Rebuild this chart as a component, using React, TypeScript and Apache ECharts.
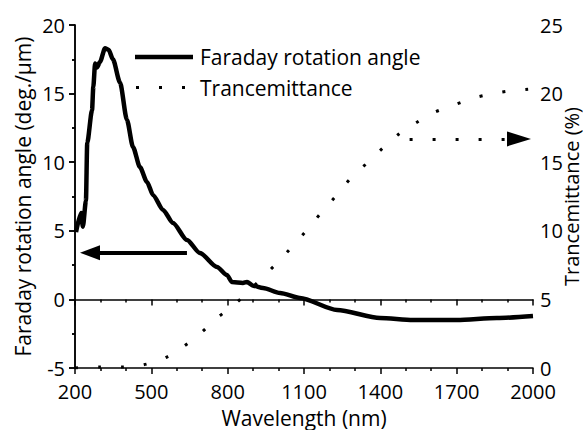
import React, { useEffect, useRef } from "react";
import * as echarts from "echarts";

// Faraday rotation angle (deg./µm) vs wavelength (nm)
const faradayWavelength = [204, 224, 231, 243, 248, 267, 272, 279, 286, 298, 318, 332, 349, 377, 404, 428, 455, 483, 507, 546, 585, 640, 691, 758, 797, 817, 860, 876, 900, 939, 1006, 1084, 1230, 1399, 1528, 1701, 1858, 2000];
const faradayAngle = [4.9, 6.3, 5.3, 7.2, 11.4, 13.8, 15.5, 17.2, 16.9, 17.3, 18.3, 18.2, 17.5, 15.8, 13.1, 11.1, 9.65, 8.56, 7.6, 6.52, 5.57, 4.33, 3.38, 2.36, 1.78, 1.27, 1.2, 1.27, 1.0, 0.83, 0.47, 0.1, -0.77, -1.36, -1.5, -1.5, -1.36, -1.21];

// Trancemittance (%) vs wavelength (nm)
const transWavelength = [200, 298, 385, 467, 554, 624, 695, 758, 829, 876, 931, 986, 1045, 1108, 1167, 1222, 1285, 1348, 1410, 1473, 1540, 1607, 1690, 1768, 1835, 1906, 1992];
const transValue = [0.0, 0.07, 0.07, 0.22, 0.73, 1.53, 2.55, 3.64, 4.66, 5.47, 6.49, 7.51, 8.67, 9.99, 11.3, 12.46, 13.85, 14.94, 16.03, 17.06, 17.86, 18.59, 19.17, 19.68, 19.97, 20.19, 20.34];

// Annotation arrows (data coordinates; end point = centre of arrow head)
const leftArrow = { from: [640, 3.4], to: [259, 3.4] };
const rightArrow = { from: [1515, 16.7], to: [1945, 16.7] };

// Tick labels
const X_MIN = 200;
const X_MAX = 2000;
const X_STEP = 300;
const LEFT_MIN = -5;
const LEFT_MAX = 20;
const RIGHT_MIN = 0;
const RIGHT_MAX = 25;
const Y_STEP = 5;

const legendNames = ["Faraday rotation angle", "Trancemittance"];

const FONT = "Open Sans";
const FS = 21;
const TICK_FS = 20;

export default function App() {
  const ref = useRef<HTMLDivElement>(null);

  useEffect(() => {
    if (!ref.current) return;
    const chart = echarts.init(ref.current, undefined, { renderer: "svg" });
    const sx = (v: number) => v - X_MIN;

    const faradayData = faradayWavelength.map((w, i) => [sx(w), faradayAngle[i]]);
    const transData = transWavelength.map((w, i) => [sx(w), transValue[i]]);

    const tickLine = { color: "#000", width: 1.5 };
    const axisLine = { show: true, lineStyle: { color: "#000", width: 1.5 } };
    const labelStyle = { color: "#000", fontSize: TICK_FS, fontFamily: FONT };
    const nameStyle = { color: "#000", fontSize: FS, fontFamily: FONT };

    chart.setOption({
      animation: false,
      backgroundColor: "#fff",
      grid: { left: 75, right: 50, top: 25, bottom: 62, outerBoundsMode: "none", containLabel: false },
      graphic: [
        {
          type: "line",
          shape: { x1: 135, y1: 57, x2: 193, y2: 57 },
          style: { stroke: "#000", lineWidth: 4.5 },
        },
        { type: "rect", shape: { x: 136, y: 86, width: 3, height: 3 }, style: { fill: "#000" } },
        { type: "rect", shape: { x: 159, y: 86, width: 3, height: 3 }, style: { fill: "#000" } },
        { type: "rect", shape: { x: 182, y: 86, width: 3, height: 3 }, style: { fill: "#000" } },
        {
          type: "text",
          x: 200,
          y: 57,
          style: { text: legendNames[0], fill: "#000", font: `${FS}px "${FONT}"`, verticalAlign: "middle" },
        },
        {
          type: "text",
          x: 200,
          y: 88,
          style: { text: legendNames[1], fill: "#000", font: `${FS}px "${FONT}"`, verticalAlign: "middle" },
        },
      ],
      xAxis: [
        {
          type: "value",
          position: "bottom",
          min: 0,
          max: X_MAX - X_MIN,
          interval: X_STEP,
          name: "Wavelength (nm)",
          nameLocation: "middle",
          nameGap: 39,
          nameMoveOverlap: false,
          nameTextStyle: nameStyle,
          axisLine,
          axisTick: { show: true, inside: false, length: 6, lineStyle: tickLine },
          minorTick: { show: true, splitNumber: 3, length: 3, lineStyle: tickLine },
          axisLabel: { ...labelStyle, margin: 13, formatter: (v: number) => String(v + X_MIN) },
          splitLine: { show: false },
        },
        {
          type: "value",
          position: "top",
          min: 0,
          max: X_MAX - X_MIN,
          interval: X_STEP,
          axisLine,
          axisTick: { show: true, inside: true, length: 6, lineStyle: tickLine },
          minorTick: { show: true, splitNumber: 3, length: 3, lineStyle: tickLine },
          axisLabel: { show: false },
          splitLine: { show: false },
        },
      ],
      yAxis: [
        {
          type: "value",
          position: "left",
          min: LEFT_MIN,
          max: LEFT_MAX,
          interval: Y_STEP,
          name: "Faraday rotation angle (deg./μm)",
          nameLocation: "middle",
          nameRotate: 90,
          nameGap: 42,
          nameMoveOverlap: false,
          nameTextStyle: nameStyle,
          axisLine,
          axisTick: { show: true, inside: false, length: 6, lineStyle: tickLine },
          minorTick: { show: true, splitNumber: 2, length: 3, lineStyle: tickLine },
          axisLabel: { ...labelStyle, margin: 10, lineHeight: 16 },
          splitLine: { show: false },
        },
        {
          type: "value",
          position: "right",
          min: RIGHT_MIN,
          max: RIGHT_MAX,
          interval: Y_STEP,
          name: "Trancemittance (%)",
          nameLocation: "middle",
          nameRotate: 90,
          nameGap: 28,
          nameMoveOverlap: false,
          nameTextStyle: { ...nameStyle, fontSize: 20 },
          axisLine,
          axisTick: { show: true, inside: true, length: 6, lineStyle: tickLine },
          minorTick: { show: true, splitNumber: 2, length: 3, lineStyle: tickLine },
          axisLabel: { ...labelStyle, margin: 7, lineHeight: 16 },
          splitLine: { show: false },
        },
      ],
      series: [
        {
          name: legendNames[0],
          type: "line",
          xAxisIndex: 0,
          yAxisIndex: 0,
          data: faradayData,
          symbol: "none",
          smooth: 0.25,
          smoothMonotone: "x",
          lineStyle: { color: "#000", width: 4.5 },
          itemStyle: { color: "#000" },
          markLine: {
            silent: true,
            symbol: ["none", "triangle"],
            symbolSize: [15, 20],
            label: { show: false },
            lineStyle: { color: "#000", width: 4, type: "solid" },
            data: [
              [
                { coord: [sx(leftArrow.from[0]), leftArrow.from[1]] },
                { coord: [sx(leftArrow.to[0]), leftArrow.to[1]] },
              ],
            ],
          },
        },
        {
          name: legendNames[1],
          type: "line",
          xAxisIndex: 0,
          yAxisIndex: 1,
          data: transData,
          symbol: "none",
          smooth: 0.3,
          lineStyle: { color: "#000", width: 3, type: [3, 20] },
          itemStyle: { color: "#000" },
          markLine: {
            silent: true,
            symbol: ["none", "triangle"],
            symbolSize: [15, 24],
            label: { show: false },
            lineStyle: { color: "#000", width: 3, type: [3, 20] },
            data: [
              [
                { coord: [sx(rightArrow.from[0]), rightArrow.from[1]] },
                { coord: [sx(rightArrow.to[0]), rightArrow.to[1]] },
              ],
            ],
          },
        },
      ],
    });

    return () => chart.dispose();
  }, []);

  return (
    <div
      ref={ref}
      style={{ position: "fixed", left: 0, top: 0, width: 583, height: 430, background: "#fff" }}
    />
  );
}
